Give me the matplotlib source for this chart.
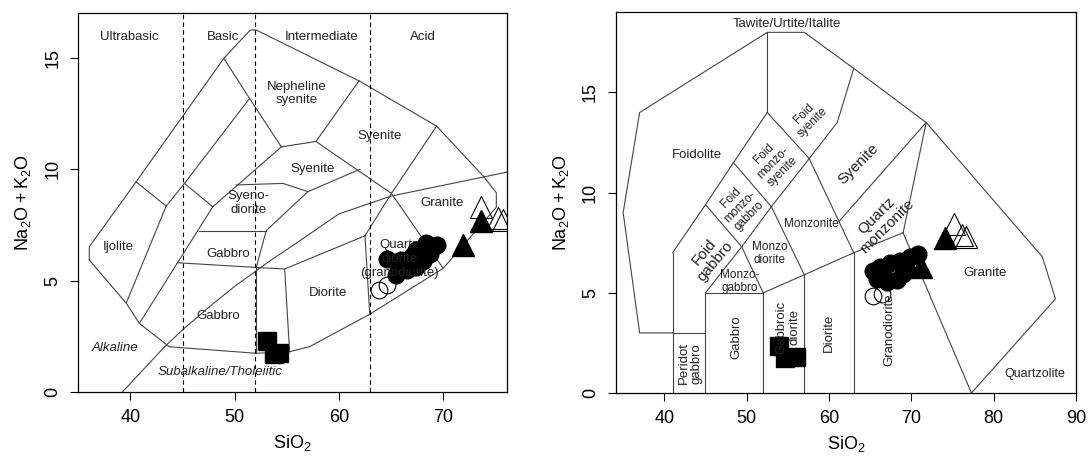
import matplotlib
matplotlib.use("Agg")
import matplotlib.pyplot as plt
import numpy as np

plt.rcParams['font.family'] = ['Liberation Sans', 'DejaVu Sans']
plt.rcParams['mathtext.default'] = 'regular'

# ---- sample data, left panel (Cox/Wilson TAS) ----
tas_circ_x = [64.6, 65.5, 66.2, 67.0, 67.4, 68.4, 69.4, 68.7, 68.1, 67.4, 66.5, 65.5, 66.0, 67.8]
tas_circ_y = [6.0, 5.85, 5.7, 6.1, 6.4, 6.7, 6.6, 6.2, 5.9, 5.6, 5.5, 5.25, 5.95, 6.35]
tas_open_circ_x = [63.8, 64.6]
tas_open_circ_y = [4.6, 4.8]
tas_sq_x = [53.15, 53.75, 54.3]
tas_sq_y = [2.31, 1.72, 1.75]
tas_tri_x = [71.9, 73.65]
tas_tri_y = [6.6, 7.7]
tas_open_tri_x = [73.6, 75.3, 75.7]
tas_open_tri_y = [8.3, 7.8, 7.75]

# ---- sample data, right panel (Middlemost 1994) ----
mid_circ_x = [65.4, 66.2, 67.4, 68.6, 69.8, 70.8, 65.8, 67.0, 68.2, 69.0, 69.4, 66.6]
mid_circ_y = [6.1, 6.3, 6.5, 6.6, 6.8, 6.95, 5.7, 5.55, 5.65, 5.95, 6.3, 5.95]
mid_open_circ_x = [65.4, 66.4]
mid_open_circ_y = [4.85, 4.95]
mid_sq_x = [53.87, 54.65, 56.0]
mid_sq_y = [2.34, 1.73, 1.8]
mid_tri_x = [71.2, 74.1]
mid_tri_y = [6.3, 7.75]
mid_open_tri_x = [75.2, 76.2, 76.6]
mid_open_tri_y = [8.45, 7.9, 7.8]

# ---- classification boundaries, left ----
tas_lines = [
    [(36.06, 5.93), (36.06, 6.53), (40.55, 9.44), (48.96, 14.98), (51.5, 16.25), (52.07, 16.25),
     (61.93, 13.97), (69.37, 11.94), (73.84, 9.7), (75.1, 8.95), (75.1, 8.3), (70.0, 5.56),
     (62.96, 3.5), (57.2, 2.05), (55.27, 1.82), (52.07, 1.75), (43.75, 2.04), (40.86, 3.09),
     (39.6, 4.0), (36.06, 5.93)],
    [(40.55, 9.44), (43.43, 8.35)],
    [(43.43, 8.35), (39.6, 4.0)],
    [(43.43, 8.35), (45.19, 9.37), (51.43, 13.18)],
    [(48.96, 14.98), (51.43, 13.18), (54.48, 11.01)],
    [(45.19, 9.37), (47.9, 8.32)],
    [(40.86, 3.09), (47.9, 8.32), (54.48, 11.01)],
    [(54.48, 11.01), (57.8, 11.25), (61.93, 13.97)],
    [(57.8, 11.25), (65.04, 8.92)],
    [(50.15, 9.3), (54.64, 9.37), (57.03, 9.0), (62.0, 10.0)],
    [(57.03, 9.0), (53.03, 7.25), (52.07, 5.6)],
    [(46.6, 7.25), (53.03, 7.25)],
    [(44.54, 5.81), (52.07, 5.6), (54.8, 5.53), (62.5, 7.02)],
    [(52.07, 5.6), (52.07, 1.75)],
    [(54.8, 5.53), (55.27, 1.82)],
    [(62.5, 7.02), (62.96, 3.5)],
    [(62.5, 7.02), (65.04, 8.92), (69.37, 11.94)],
    [(65.04, 8.92), (70.0, 5.56)],
]
# Irvine & Baragar alkaline/subalkaline divide
ib_x = [39.2, 40, 43.2, 45, 48, 50, 53.7, 55, 60, 65, 77.4]
ib_y = [0, 0.4, 2, 2.8, 4, 4.75, 6, 6.4, 8, 8.8, 10]
silica_limits = [45, 52, 63]

tas_labels = [
    ("Ultrabasic", 39.9, 15.95), ("Basic", 48.9, 15.95), ("Intermediate", 58.3, 15.95),
    ("Acid", 68.1, 15.95), ("Nepheline\nsyenite", 56.0, 13.4), ("Syenite", 63.9, 11.5),
    ("Syenite", 57.5, 10.0), ("Syeno-\ndiorite", 51.3, 8.5), ("Ijolite", 38.8, 6.5),
    ("Gabbro", 49.4, 6.2), ("Gabbro", 48.4, 3.42), ("Diorite", 59.0, 4.47),
    ("Granite", 69.9, 8.5), ("Quartz\ndiorite\n(granodiorite)", 65.8, 5.98),
]
tas_italic = [("Alkaline", 38.5, 1.97), ("Subalkaline/Tholeiitic", 48.6, 0.92)]

# ---- classification boundaries, right ----
mid_lines = [
    [(41, 3), (37, 3), (35, 9), (37, 14), (52.5, 18), (57, 18), (63, 16.2), (71.8, 13.5),
     (85.9, 6.8), (87.5, 4.7), (77.3, 0)],
    [(41, 0), (41, 7)], [(45, 0), (45, 5)], [(41, 3), (45, 3)], [(45, 5), (52, 5)],
    [(52, 0), (52, 5)], [(57, 0), (57, 5.9)], [(63, 0), (63, 7)],
    [(52, 5), (57, 5.9), (63, 7), (69, 8)], [(69, 8), (77.3, 0)], [(69, 8), (71.8, 13.5)],
    [(61.2, 8.56), (71.8, 13.5)], [(63, 7), (57.6, 11.7)], [(57, 5.9), (53, 9.3)],
    [(52, 5), (49.4, 7.3)],
    [(45, 5), (49.4, 7.3), (53, 9.3), (57.6, 11.7), (61, 13.5), (63, 16.2)],
    [(41, 7), (45, 9.4), (48.4, 11.5), (52.5, 14)],
    [(45, 9.4), (49.4, 7.3)], [(48.4, 11.5), (53, 9.3)], [(52.5, 14), (57.6, 11.7)],
    [(52.5, 14), (52.5, 18)],
]
# text, x, y, rotation, size
mid_labels = [
    ("Tawite/Urtite/Italite", 54.85, 18.43, 0, 9.5), ("Foidolite", 43.9, 11.9, 0, 9.5),
    ("Foid\nsyenite", 57.5, 13.7, 45, 8.5), ("Foid\nmonzo-\nsyenite", 53.2, 11.5, 45, 8.5),
    ("Foid\nmonzo-\ngabbro", 49.2, 9.3, 45, 8.5), ("Foid\ngabbro", 45.5, 6.8, 50, 11),
    ("Monzo-\ngabbro", 49.2, 5.55, 0, 8.5), ("Monzo\ndiorite", 52.8, 6.96, 0, 8.5),
    ("Monzonite", 57.9, 8.42, 0, 8.5), ("Syenite", 63.6, 11.45, 45, 11),
    ("Quartz\nmonzonite", 66.4, 8.6, 45, 11), ("Peridot\ngabbro", 43.1, 1.48, 90, 9.5),
    ("Gabbro", 48.8, 2.8, 90, 9.5), ("Gabbroic\ndiorite", 55.05, 3.3, 90, 9.5),
    ("Diorite", 60.0, 3.0, 90, 9.5), ("Granodiorite", 67.3, 3.14, 90, 9.5),
    ("Granite", 78.9, 5.97, 0, 9.5), ("Quartzolite", 85.0, 0.95, 0, 9),
]

line_col = '#444444'

fig = plt.figure(figsize=(10.9, 4.57), dpi=100)
ax1 = fig.add_axes([0.0718, 0.1416, 0.3931, 0.8293])
ax2 = fig.add_axes([0.5649, 0.140, 0.4223, 0.8331])

for seg in tas_lines:
    xs, ys = zip(*seg)
    ax1.plot(xs, ys, color=line_col, lw=0.8)
ax1.plot(ib_x, ib_y, color=line_col, lw=0.8)
for s in silica_limits:
    ax1.plot([s, s], [0, 17], color='black', lw=0.8, ls=(0, (4, 3)))
for txt, x, y in tas_labels:
    ax1.text(x, y, txt, ha='center', va='center', fontsize=9.5, color='#222222', linespacing=1.2)
for txt, x, y in tas_italic:
    ax1.text(x, y, txt, ha='center', va='center', fontsize=9.5, style='italic', color='#222222')

ax1.plot(tas_circ_x, tas_circ_y, 'o', ms=12, color='black')
ax1.plot(tas_open_circ_x, tas_open_circ_y, 'o', ms=12, mfc='none', mec='black', mew=0.8)
ax1.plot(tas_sq_x, tas_sq_y, 's', ms=13, color='black')
ax1.plot(tas_open_tri_x, tas_open_tri_y, '^', ms=16, mfc='none', mec='black', mew=0.8)
ax1.plot(tas_tri_x, tas_tri_y, '^', ms=16, color='black')
ax1.set_xlim(35, 76.1)
ax1.set_ylim(0, 17)
ax1.set_xticks([40, 50, 60, 70])

for seg in mid_lines:
    xs, ys = zip(*seg)
    ax2.plot(xs, ys, color=line_col, lw=0.8)
for txt, x, y, rot, fs in mid_labels:
    ax2.text(x, y, txt, ha='center', va='center', fontsize=fs, rotation=rot,
             color='#222222', linespacing=1.1)

ax2.plot(mid_circ_x, mid_circ_y, 'o', ms=12, color='black')
ax2.plot(mid_open_circ_x, mid_open_circ_y, 'o', ms=12, mfc='none', mec='black', mew=0.8)
ax2.plot(mid_sq_x, mid_sq_y, 's', ms=13, color='black')
ax2.plot(mid_open_tri_x, mid_open_tri_y, '^', ms=16, mfc='none', mec='black', mew=0.8)
ax2.plot(mid_tri_x, mid_tri_y, '^', ms=16, color='black')
ax2.set_xlim(34.1, 90)
ax2.set_ylim(0, 19)
ax2.set_xticks([40, 50, 60, 70, 80, 90])

for ax in (ax1, ax2):
    ax.set_yticks([0, 5, 10, 15])
    ax.tick_params(length=6, width=0.8, labelsize=13, pad=6)
    ax.tick_params(axis='y', labelrotation=90, pad=6)
    for lab in ax.get_yticklabels():
        lab.set_va('center')
    for sp in ax.spines.values():
        sp.set_linewidth(0.9)
    ax.set_xlabel('$SiO_2$', fontsize=13, labelpad=5)
    ax.set_ylabel('$Na_2O + K_2O$', fontsize=13, labelpad=8)

fig.savefig('out.png', dpi=100)
